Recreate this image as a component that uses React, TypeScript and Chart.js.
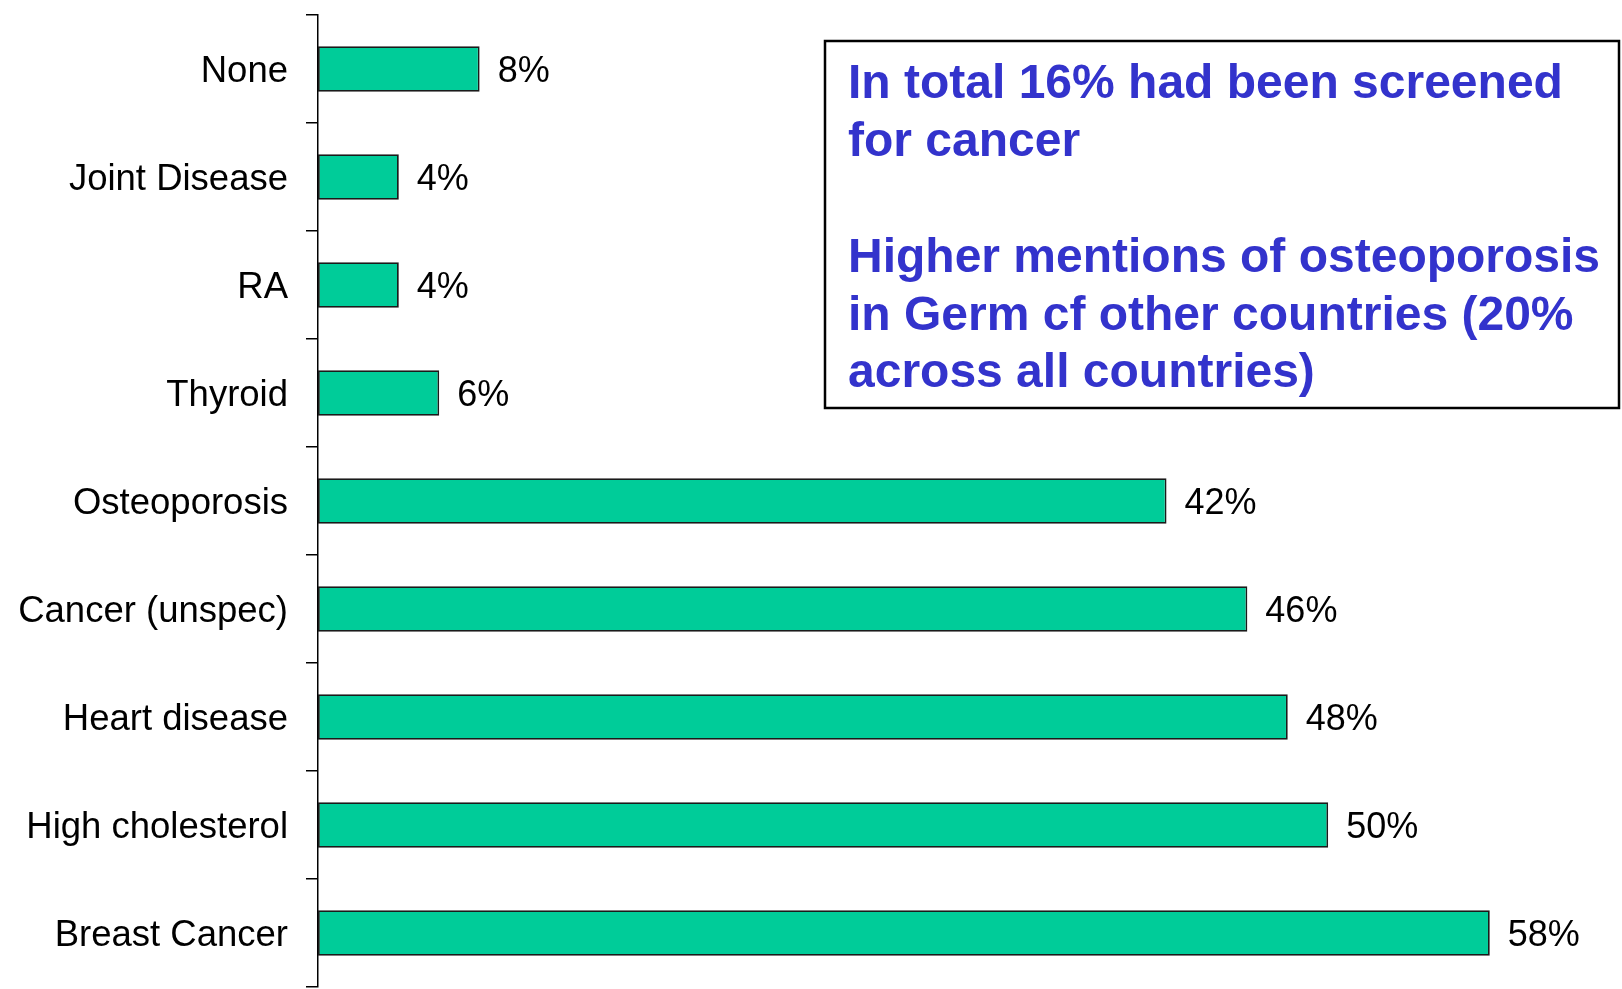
import React, { useEffect, useRef } from "react";
import { Chart, registerables } from "chart.js";

Chart.register(...registerables);

const categories = [
  "None",
  "Joint Disease",
  "RA",
  "Thyroid",
  "Osteoporosis",
  "Cancer (unspec)",
  "Heart disease",
  "High cholesterol",
  "Breast Cancer",
];
const values = [8, 4, 4, 6, 42, 46, 48, 50, 58];
const valueLabels = ["8%", "4%", "4%", "6%", "42%", "46%", "48%", "50%", "58%"];
const noteLines = [
  "In total 16% had been screened",
  "for cancer",
  "",
  "Higher mentions of osteoporosis",
  "in Germ cf other countries (20%",
  "across all countries)",
];

const FONT = "'Liberation Sans', Arial, Helvetica, sans-serif";

export default function App() {
  const ref = useRef<HTMLCanvasElement | null>(null);

  useEffect(() => {
    if (!ref.current) return;
    const valuePlugin = {
      id: "valueLabels",
      afterDatasetsDraw(chart: any) {
        const ctx = chart.ctx;
        const meta = chart.getDatasetMeta(0);
        ctx.save();
        ctx.font = `36px ${FONT}`;
        ctx.fillStyle = "#000";
        ctx.textAlign = "left";
        ctx.textBaseline = "middle";
        meta.data.forEach((el: any, i: number) => {
          ctx.fillText(valueLabels[i], el.x + 18, el.y + 3);
        });
        ctx.restore();
      },
    };
    const notePlugin = {
      id: "noteBox",
      afterDraw(chart: any) {
        const ctx = chart.ctx;
        ctx.save();
        ctx.fillStyle = "#fff";
        ctx.fillRect(825, 41, 794, 367);
        ctx.strokeStyle = "#000";
        ctx.lineWidth = 2.5;
        ctx.strokeRect(825, 41, 794, 367);
        ctx.fillStyle = "#3333CC";
        ctx.font = `bold 48px ${FONT}`;
        ctx.textAlign = "left";
        ctx.textBaseline = "alphabetic";
        const baselines = [98, 156, 214, 272, 330, 387];
        noteLines.forEach((line, i) => {
          if (line) ctx.fillText(line, 848, baselines[i]);
        });
        ctx.restore();
      },
    };
    const chart = new Chart(ref.current, {
      type: "bar",
      data: {
        labels: categories,
        datasets: [
          {
            data: values,
            backgroundColor: "#00CC99",
            borderColor: "#1a1a1a",
            borderWidth: 1.8,
            borderSkipped: false,
            categoryPercentage: 1,
            barPercentage: 0.42,
          },
        ],
      },
      options: {
        indexAxis: "y",
        animation: false,
        responsive: false,
        maintainAspectRatio: false,
        layout: { padding: { top: 15, bottom: 2, left: 0, right: 11 } },
        plugins: {
          legend: { display: false },
          tooltip: { enabled: false },
          title: { display: false },
        },
        scales: {
          x: {
            display: false,
            min: 0,
            max: 64,
          },
          y: {
            afterFit: (s: any) => {
              s.width = 318;
              s.paddingTop = 0;
              s.paddingBottom = 0;
            },
            grid: {
              offset: true,
              drawOnChartArea: false,
              drawTicks: true,
              tickLength: 12,
              color: "#000",
              lineWidth: 1.5,
            },
            border: { display: true, color: "#000", width: 1.5 },
            ticks: {
              color: "#000",
              padding: 18,
              labelOffset: 3,
              font: { family: FONT, size: 36.5 },
            },
          },
        },
      },
      plugins: [valuePlugin, notePlugin],
    });
    return () => chart.destroy();
  }, []);

  return (
    <div style={{ position: "fixed", left: 0, top: 0, width: 1622, height: 989, background: "#fff" }}>
      <canvas ref={ref} width={1622} height={989} style={{ display: "block" }} />
    </div>
  );
}
